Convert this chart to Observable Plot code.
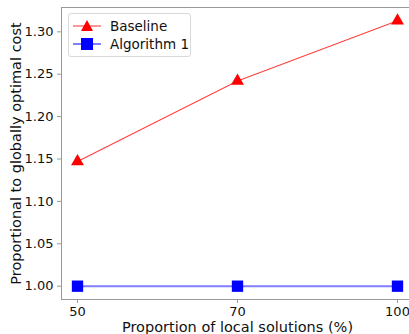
<!DOCTYPE html>
<html>
<head>
<meta charset="utf-8">
<script src="https://cdn.jsdelivr.net/npm/d3@7"></script>
<script src="https://cdn.jsdelivr.net/npm/@observablehq/plot@0.6"></script>
<style>
  html, body { margin: 0; padding: 0; background: #fff; }
  #wrap { position: relative; width: 409px; height: 334px; overflow: hidden; font-family: "DejaVu Sans", sans-serif; }
  #wrap svg { overflow: hidden; }
  #legend { position: absolute; left: 68px; top: 13px; width: 123px; height: 44px; border: 1px solid #d9d9d9; border-radius: 3px; background: rgba(255,255,255,0.8); box-sizing: border-box; }
  .row { position: absolute; left: 4px; height: 18px; display: flex; align-items: center; font-size: 13.5px; color: #111; }
  .row svg { margin-right: 9px; }
</style>
</head>
<body>
<div id="wrap"></div>
<script>
const categories = ["50", "70", "100"];
const seriesNames = ["Baseline", "Algorithm 1"];
const baseline = [1.147, 1.242, 1.313];
const algorithm1 = [1.0, 1.0, 1.0];
const yTicks = [1.00, 1.05, 1.10, 1.15, 1.20, 1.25, 1.30];

const rows = [];
categories.forEach((c, i) => {
  rows.push({i, cat: c, series: seriesNames[0], value: baseline[i]});
  rows.push({i, cat: c, series: seriesNames[1], value: algorithm1[i]});
});
const base = rows.filter(d => d.series === seriesNames[0]);
const alg = rows.filter(d => d.series === seriesNames[1]);

const yDomain = [0.9843, 1.3287];

const chart = Plot.plot({
  width: 409,
  height: 334,
  marginLeft: 61,
  marginTop: 7,
  marginBottom: 35,
  marginRight: 0,
  style: {fontFamily: "DejaVu Sans, sans-serif", fontSize: "13px", color: "#111", background: "#fff", overflow: "hidden"},
  x: {domain: [-0.1, 2.1], range: [61, 413], label: null},
  y: {domain: yDomain, label: null},
  marks: [
    Plot.ruleX([-0.1], {stroke: "#999", strokeWidth: 1}),
    Plot.ruleY([yDomain[0]], {stroke: "#999", strokeWidth: 1}),
    Plot.ruleY([yDomain[1]], {stroke: "#999", strokeWidth: 1}),
    Plot.axisX({ticks: categories.map((c, i) => i), tickFormat: i => categories[i], tickSize: 4, stroke: "#999", fill: "#111", fontSize: 13, tickPadding: 3, label: null}),
    Plot.axisY({ticks: yTicks, tickFormat: d3.format(".2f"), tickSize: 4, stroke: "#999", fill: "#111", fontSize: 13, tickPadding: 4, label: null}),
    Plot.line(base, {x: "i", y: "value", stroke: "#ff4040", strokeWidth: 1.1}),
    Plot.line(alg, {x: "i", y: "value", stroke: "#7f7fff", strokeWidth: 2}),
    Plot.dot(base, {x: "i", y: "value", symbol: "triangle", r: 4.8, fill: "red", stroke: "none"}),
    Plot.dot(alg, {x: "i", y: "value", symbol: "square", r: 6.4, fill: "blue", stroke: "none"}),
    Plot.text(["Proportion of local solutions (%)"], {x: 1, frameAnchor: "bottom", lineAnchor: "middle", dy: 28, text: d => d, fontSize: 14.5, fill: "#111"}),
    Plot.text(["Proportional to globally optimal cost"], {frameAnchor: "left", textAnchor: "middle", lineAnchor: "middle", dx: -45, rotate: -90, text: d => d, fontSize: 14.5, fill: "#111"})
  ]
});
document.getElementById("wrap").appendChild(chart);

const legend = document.createElement("div");
legend.id = "legend";
legend.innerHTML = `
  <div class="row" style="top:3px"><svg width="28" height="16"><line x1="0" y1="8" x2="28" y2="8" stroke="#ff4040" stroke-width="1.1"/><path d="M14,2 L20,13 L8,13 Z" fill="red"/></svg>${seriesNames[0]}</div>
  <div class="row" style="top:21px"><svg width="28" height="16"><line x1="0" y1="8" x2="28" y2="8" stroke="#7f7fff" stroke-width="2"/><rect x="8" y="2" width="12" height="12" fill="blue"/></svg>${seriesNames[1]}</div>`;
document.getElementById("wrap").appendChild(legend);
</script>
</body>
</html>
